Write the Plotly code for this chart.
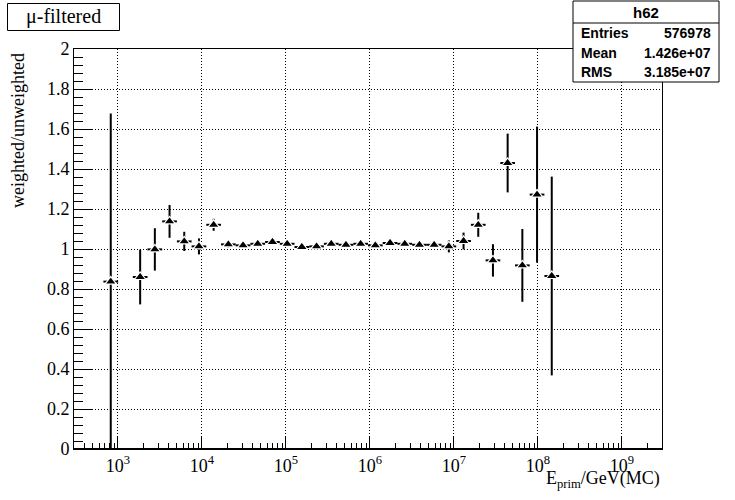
import numpy as np
import plotly.graph_objects as go

# Histogram binning (40 log-spaced bins between 3e2 and 3e9 GeV)
bin_low = 300.0
bin_high = 3e9
n_bins = 40

# weighted/unweighted ratio per bin (None = empty bin)
ratio = [None, None, 0.837, None, 0.860, 0.998, 1.138, 1.038, 1.013, 1.121,
         1.023, 1.018, 1.026, 1.035, 1.026, 1.010, 1.013, 1.026, 1.021, 1.026,
         1.018, 1.030, 1.026, 1.021, 1.021, 1.013, 1.040, 1.121, 0.943, 1.430,
         0.918, 1.272, 0.865, None, None, None, None, None, None, None]
ratio_err = [None, None, 0.84, None, 0.137, 0.106, 0.082, 0.048, 0.040, 0.030,
             0.015, 0.012, 0.010, 0.008, 0.008, 0.008, 0.008, 0.008, 0.008, 0.008,
             0.008, 0.008, 0.009, 0.010, 0.013, 0.030, 0.042, 0.060, 0.081, 0.147,
             0.182, 0.340, 0.497, None, None, None, None, None, None, None]

x_tick_vals = [1e3, 1e4, 1e5, 1e6, 1e7, 1e8, 1e9]
x_tick_text = ["10<sup>3</sup>", "10<sup>4</sup>", "10<sup>5</sup>", "10<sup>6</sup>",
               "10<sup>7</sup>", "10<sup>8</sup>", "10<sup>9</sup>"]

stats_name = "h62"
stats_rows = [("Entries", "576978"), ("Mean", "1.426e+07"), ("RMS", "3.185e+07")]
title_text = "μ-filtered"

edges = np.logspace(np.log10(bin_low), np.log10(bin_high), n_bins + 1)
centers = np.sqrt(edges[:-1] * edges[1:])
xs, ys, eys, exm, exp = [], [], [], [], []
for i in range(n_bins):
    if ratio[i] is None:
        continue
    xs.append(centers[i])
    ys.append(ratio[i])
    eys.append(ratio_err[i])
    exm.append(centers[i] - edges[i])
    exp.append(edges[i + 1] - centers[i])

minor_vals = [m * 10 ** d for d in range(2, 10) for m in range(2, 10)
              if bin_low <= m * 10 ** d <= bin_high]

fig = go.Figure()
fig.add_trace(go.Scatter(
    x=xs, y=ys, mode="markers",
    marker=dict(symbol="triangle-up", size=10, color="black",
                line=dict(color="white", width=1.2)),
    error_y=dict(type="data", array=eys, visible=True, color="black",
                 thickness=2, width=0),
    error_x=dict(type="data", array=exp, arrayminus=exm, symmetric=False,
                 visible=True, color="black", thickness=2, width=0),
    showlegend=False, hoverinfo="skip",
))

L, R, T, B = 74, 73, 49, 51
W, H = 735, 500
pw, ph = W - L - R, H - T - B


def px(x):
    return (x - L) / pw


def py(y):
    return (H - B - y) / ph


serif = "Liberation Serif, Times New Roman, serif"
sans = "Liberation Sans, Arial, sans-serif"
dotted = "1px,2px"

fig.update_layout(
    width=W, height=H,
    margin=dict(l=L, r=R, t=T, b=B, autoexpand=False),
    paper_bgcolor="white", plot_bgcolor="white",
    font=dict(family=serif, size=18, color="black"),
    xaxis=dict(
        type="log", range=[np.log10(bin_low), np.log10(bin_high)],
        tickmode="array", tickvals=x_tick_vals, ticktext=x_tick_text,
        ticks="inside", ticklen=12, tickwidth=1, tickcolor="black",
        showline=True, linecolor="black", linewidth=1, mirror=True,
        showgrid=True, gridcolor="black", griddash=dotted, gridwidth=1,
        zeroline=False,
        tickfont=dict(family=serif, size=18),
        minor=dict(tickmode="array", tickvals=minor_vals, ticks="inside",
                   ticklen=6, tickwidth=1, tickcolor="black", showgrid=False),
    ),
    yaxis=dict(
        range=[0, 2], dtick=0.2, tick0=0,
        ticks="inside", ticklen=18, tickwidth=1, tickcolor="black",
        showline=True, linecolor="black", linewidth=1, mirror=True,
        showgrid=True, gridcolor="black", griddash=dotted, gridwidth=1,
        zeroline=False,
        tickfont=dict(family=serif, size=18),
        minor=dict(dtick=0.04, tick0=0, ticks="inside", ticklen=9,
                   tickwidth=1, tickcolor="black", showgrid=False),
    ),
)

shapes = [
    # thick bottom axis
    dict(type="line", xref="paper", yref="paper", x0=0, x1=1, y0=0, y1=0,
         line=dict(color="black", width=2)),
    # stats box
    dict(type="rect", xref="paper", yref="paper",
         x0=px(573), x1=px(719), y0=py(82), y1=py(1),
         line=dict(color="black", width=1), fillcolor="white", layer="above"),
    dict(type="line", xref="paper", yref="paper",
         x0=px(573), x1=px(719), y0=py(23), y1=py(23),
         line=dict(color="black", width=1), layer="above"),
    # title box
    dict(type="rect", xref="paper", yref="paper",
         x0=px(7.5), x1=px(119.5), y0=py(30.5), y1=py(3.5),
         line=dict(color="black", width=1), fillcolor="white", layer="above"),
]

annotations = [
    dict(text=title_text, xref="paper", yref="paper", x=px(63), y=py(17),
         xanchor="center", yanchor="middle", showarrow=False,
         font=dict(family=serif, size=20)),
    dict(text="<b>" + stats_name + "</b>", xref="paper", yref="paper",
         x=px(646), y=py(13), xanchor="center", yanchor="middle",
         showarrow=False, font=dict(family=sans, size=15)),
    dict(text="weighted/unweighted", xref="paper", yref="paper",
         x=px(18), y=py(131), xanchor="center", yanchor="middle",
         textangle=-90, showarrow=False, font=dict(family=serif, size=18)),
    dict(text="E<sub>prim</sub>/GeV(MC)", xref="paper", yref="paper",
         x=px(662), y=py(480), xanchor="right", yanchor="middle",
         showarrow=False, font=dict(family=serif, size=18)),
]
row_y = [33, 52.5, 72]
for (lab, val), yy in zip(stats_rows, row_y):
    annotations.append(dict(text="<b>" + lab + "</b>", xref="paper",
                            yref="paper", x=px(579), y=py(yy),
                            xanchor="left", yanchor="middle", showarrow=False,
                            font=dict(family=sans, size=14)))
    annotations.append(dict(text="<b>" + val + "</b>", xref="paper",
                            yref="paper", x=px(713), y=py(yy),
                            xanchor="right", yanchor="middle", showarrow=False,
                            font=dict(family=sans, size=14)))

fig.update_layout(shapes=shapes, annotations=annotations, hovermode=False)
fig.write_html("out.html", config={"displayModeBar": False},
               post_script="document.body.style.margin='0';"
                           "document.body.style.padding='0';")
